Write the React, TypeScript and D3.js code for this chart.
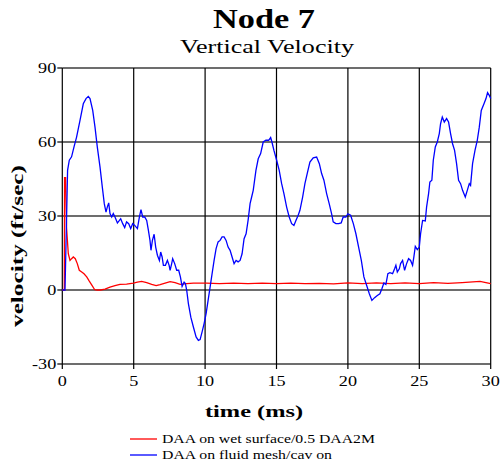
import React from "react";
import * as d3 from "d3";

const title = "Node 7";
const subtitle = "Vertical Velocity";
const xLabel = "time (ms)";
const yLabel = "velocity (ft/sec)";
const xTicks = [0, 5, 10, 15, 20, 25, 30];
const yTicks = [-30, 0, 30, 60, 90];
const seriesNames = ["DAA on wet surface/0.5 DAA2M", "DAA on fluid mesh/cav on"];
const seriesColors = ["#ff0000", "#0000ff"];

const redT = [0, 0.14, 0.16, 0.23, 0.3, 0.42, 0.54, 0.65, 0.77, 0.91, 1.05, 1.19, 1.36, 1.52, 1.71, 1.89, 2.08, 2.27, 2.45, 2.69, 2.99, 3.34, 3.69, 4.04, 4.5, 4.98, 5.26, 5.56, 5.91, 6.26, 6.57, 6.85, 7.2, 7.55, 7.9, 8.25, 8.71, 9.18, 10.1, 11, 12, 13, 14, 15, 16, 17, 18, 19, 20, 21, 22, 23, 24, 25, 26, 27, 28, 29.25, 30];
const redV = [0, 0, 45.5, 45.5, 25, 14.7, 12, 12.7, 13.4, 12.7, 10.7, 8, 7.3, 6.6, 5.3, 3.6, 1.9, 0.1, 0, 0, 0.4, 1.2, 1.8, 2.3, 2.4, 2.8, 3.2, 3.5, 3.0, 2.3, 1.8, 2.2, 2.8, 3.4, 3.0, 2.3, 2.6, 2.8, 2.8, 2.6, 2.8, 2.6, 2.8, 2.6, 2.8, 2.6, 2.7, 2.5, 2.9, 2.6, 2.9, 2.6, 2.9, 2.6, 3.0, 2.7, 3.0, 3.5, 2.6];

const blueT = [0, 0.19, 0.37, 0.49, 0.65, 0.82, 1.0, 1.24, 1.47, 1.66, 1.82, 1.94, 2.13, 2.29, 2.45, 2.64, 2.8, 2.94, 3.06, 3.15, 3.25, 3.34, 3.46, 3.57, 3.69, 3.86, 4.0, 4.09, 4.23, 4.37, 4.5, 4.65, 4.79, 4.93, 5.07, 5.26, 5.4, 5.51, 5.63, 5.77, 5.91, 6.03, 6.14, 6.21, 6.31, 6.43, 6.54, 6.66, 6.8, 6.89, 6.99, 7.08, 7.22, 7.36, 7.48, 7.55, 7.66, 7.73, 7.87, 8.01, 8.15, 8.27, 8.39, 8.53, 8.62, 8.71, 8.83, 9.0, 9.18, 9.37, 9.53, 9.65, 9.79, 9.93, 10.07, 10.21, 10.35, 10.49, 10.63, 10.77, 10.91, 11.05, 11.19, 11.33, 11.47, 11.61, 11.75, 11.89, 12.03, 12.17, 12.31, 12.45, 12.59, 12.73, 12.87, 13.01, 13.15, 13.26, 13.37, 13.56, 13.72, 13.89, 14.07, 14.26, 14.45, 14.59, 14.68, 14.82, 15.01, 15.19, 15.36, 15.52, 15.71, 15.89, 16.06, 16.22, 16.36, 16.52, 16.64, 16.83, 16.99, 17.15, 17.34, 17.57, 17.81, 18.0, 18.16, 18.32, 18.51, 18.69, 18.86, 18.97, 19.16, 19.35, 19.53, 19.67, 19.86, 20.0, 20.19, 20.38, 20.56, 20.75, 20.94, 21.12, 21.31, 21.5, 21.68, 21.87, 22.06, 22.24, 22.38, 22.52, 22.66, 22.8, 22.94, 23.13, 23.27, 23.36, 23.46, 23.6, 23.69, 23.83, 23.97, 24.11, 24.25, 24.39, 24.53, 24.62, 24.72, 24.86, 25.0, 25.09, 25.23, 25.42, 25.51, 25.65, 25.74, 25.88, 25.98, 26.12, 26.26, 26.4, 26.49, 26.61, 26.75, 26.91, 27.05, 27.19, 27.33, 27.47, 27.61, 27.75, 27.89, 28.03, 28.22, 28.36, 28.5, 28.59, 28.73, 28.9, 29.06, 29.2, 29.34, 29.53, 29.67, 29.78, 29.9, 30.0];
const blueV = [0, 0, 48.5, 52.6, 54, 58, 62, 68.8, 75.5, 77.6, 78.5, 77.6, 72.8, 66, 58, 49.9, 41.8, 35, 31.6, 33.6, 35.3, 31, 29.6, 31, 29.6, 27.2, 28.2, 28.9, 26.9, 25.3, 27.6, 26.9, 24.9, 26.9, 26.2, 24.9, 29.6, 32.6, 29.6, 29.6, 28.2, 24.2, 20.1, 16.1, 20.1, 22.6, 17.4, 14.1, 12, 15.4, 13.4, 10, 10, 12, 10, 8, 10.7, 12.7, 10.7, 8, 8, 5.3, 1.5, 3.2, 2.6, 0, -5.5, -11, -15, -19, -20.4, -20.1, -17, -13.6, -9.6, -4.2, 1.2, 6.6, 12, 16.8, 19.5, 20.1, 21.5, 21.5, 20.1, 17.4, 16.1, 13.4, 10.7, 12, 11.4, 12, 14.7, 20.8, 22.8, 28.2, 35, 37.7, 40.4, 48.5, 53.2, 55.3, 60, 60.7, 60.7, 61.8, 60, 56.6, 52.6, 48.5, 43.1, 39.1, 33.6, 29.6, 26.9, 26.2, 28.2, 30.3, 32.3, 37.7, 43.1, 47.2, 51.9, 53.6, 53.9, 51.2, 47.2, 44.5, 39.1, 35, 30.9, 27.6, 26.9, 26.9, 27.2, 29.6, 29.6, 30.9, 30.3, 26.9, 22.8, 17.4, 12, 5.3, 1.9, -1.5, -4.2, -3.1, -2.2, -1.5, 0.5, 2.8, 2.3, 6.6, 7.0, 6.6, 8.6, 10, 7.3, 8.6, 10.7, 12, 8, 10.7, 12.7, 12, 10, 13.4, 17.7, 16.4, 17.4, 22.8, 28.2, 28, 33.6, 39.1, 43.8, 44.5, 52.6, 58, 60, 63.4, 67.4, 70.1, 68.1, 69.5, 68.1, 63.4, 59.3, 56.6, 51.2, 44.5, 43.1, 40.4, 37.7, 40.4, 43.1, 42.4, 51.2, 56.6, 60.7, 66, 72.8, 75.5, 77.6, 80, 78.9, 77.6];

const W = 503;
const H = 467;
const M = { left: 62.3, right: 490.7, top: 68, bottom: 364 };
const serif = "'Liberation Serif', 'Times New Roman', serif";
const SX = 1.3;

function WideText(props: { x: number; y: number; anchor: string; size: number; children: React.ReactNode }) {
  return (
    <g transform={`translate(${props.x},${props.y}) scale(${SX},1)`}>
      <text x={0} y={0} textAnchor={props.anchor} fontSize={props.size}>
        {props.children}
      </text>
    </g>
  );
}

export default function App() {
  const x = d3.scaleLinear().domain([0, 30]).range([M.left, M.right]);
  const y = d3.scaleLinear().domain([-30, 90]).range([M.bottom, M.top]);
  const line = d3
    .line<[number, number]>()
    .x((d) => x(d[0]))
    .y((d) => y(d[1]));
  const red: [number, number][] = redT.map((t, i) => [t, redV[i]]);
  const blue: [number, number][] = blueT.map((t, i) => [t, blueV[i]]);

  return (
    <svg
      width={W}
      height={H}
      style={{ position: "absolute", left: 0, top: 0, background: "#fff" }}
      fontFamily={serif}
    >
      <text x={264} y={28} textAnchor="middle" fontSize={27} fontWeight="bold" textLength={102} lengthAdjust="spacingAndGlyphs">
        {title}
      </text>
      <text x={267} y={53} textAnchor="middle" fontSize={18} textLength={174} lengthAdjust="spacingAndGlyphs">
        {subtitle}
      </text>

      {/* horizontal grid */}
      {yTicks.map((v) => (
        <line key={"h" + v} x1={M.left} x2={M.right} y1={y(v)} y2={y(v)} stroke="#3c3c3c" strokeWidth={1.3} />
      ))}
      {/* vertical grid */}
      {xTicks.map((v) => (
        <line key={"v" + v} x1={x(v)} x2={x(v)} y1={M.top} y2={M.bottom} stroke="#000" strokeWidth={1.2} />
      ))}
      {/* y ticks */}
      {yTicks.map((v) => (
        <g key={"yt" + v}>
          <line x1={M.left - 5} x2={M.left} y1={y(v)} y2={y(v)} stroke="#000" strokeWidth={1.2} />
          <WideText x={M.left - 6} y={y(v) + 5} anchor="end" size={14}>
            {v}
          </WideText>
        </g>
      ))}
      {/* x ticks */}
      {xTicks.map((v) => (
        <g key={"xt" + v}>
          <line x1={x(v)} x2={x(v)} y1={M.bottom} y2={M.bottom + 5} stroke="#000" strokeWidth={1.2} />
          <WideText x={x(v)} y={M.bottom + 22} anchor="middle" size={14}>
            {v}
          </WideText>
        </g>
      ))}

      <path d={line(red) || ""} fill="none" stroke={seriesColors[0]} strokeWidth={1.3} />
      <path d={line(blue) || ""} fill="none" stroke={seriesColors[1]} strokeWidth={1.3} />

      <text x={254} y={417} textAnchor="middle" fontSize={17} fontWeight="bold" textLength={98} lengthAdjust="spacingAndGlyphs">
        {xLabel}
      </text>
      <text
        transform={`translate(23, 246) rotate(-90)`}
        textAnchor="middle"
        fontSize={17}
        fontWeight="bold"
        textLength={162}
        lengthAdjust="spacingAndGlyphs"
      >
        {yLabel}
      </text>

      {seriesNames.map((n, i) => (
        <g key={n}>
          <line x1={130} x2={157} y1={439 + i * 16} y2={439 + i * 16} stroke={seriesColors[i]} strokeWidth={1.3} />
          <text x={162} y={443 + i * 16} fontSize={12.5} textLength={i === 0 ? 213 : 170} lengthAdjust="spacingAndGlyphs">
            {n}
          </text>
        </g>
      ))}
    </svg>
  );
}
